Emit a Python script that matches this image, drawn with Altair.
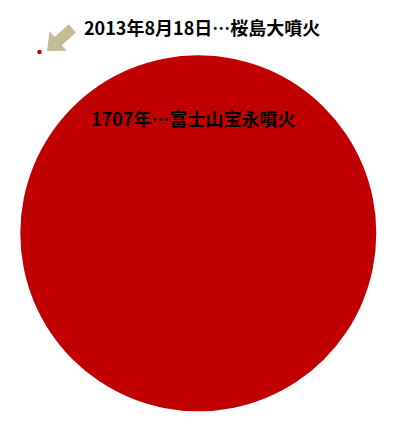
import altair as alt
import pandas as pd

# Data
events = ["1707年…富士山宝永噴火", "2013年8月18日…桜島大噴火"]
keys = ["fuji", "sakurajima"]
volume_m3 = [1700000000, 270000]  # estimated from circle areas

df = pd.DataFrame({"key": keys, "event": events, "volume": volume_m3})

RED = "#C00000"
TAN = "#C4BC96"
FONT = "Noto Sans CJK JP"

size_enc = alt.Size("volume:Q", legend=None,
                    scale=alt.Scale(type="linear", domain=[0, 1700000000], range=[0, 126736]))

base = alt.Chart(df)

fuji_circle = base.transform_filter(alt.datum.key == "fuji").mark_point(
    shape="circle", filled=True, color=RED, opacity=1, strokeWidth=0
).encode(x=alt.value(190.3), y=alt.value(225.3), size=size_enc)

saku_dot = base.transform_filter(alt.datum.key == "sakurajima").mark_point(
    shape="circle", filled=True, color=RED, opacity=1, strokeWidth=0
).encode(x=alt.value(31.5), y=alt.value(44), size=size_enc)

arrow_path = ("M-0.634,0.565L0.357,0.552L0.108,0.272L0.817,-0.36"
              "L0.452,-0.77L-0.257,-0.139L-0.506,-0.419Z")
arrow = base.transform_filter(alt.datum.key == "sakurajima").mark_point(
    shape=arrow_path, filled=True, color=TAN, opacity=1, strokeWidth=0, size=1600
).encode(x=alt.value(51.65), y=alt.value(31.75))

saku_label = base.transform_filter(alt.datum.key == "sakurajima").mark_text(
    align="left", baseline="middle", font=FONT, fontSize=18, fontWeight="bold", color="#000000"
).encode(x=alt.value(76), y=alt.value(22), text="event:N")

fuji_label = base.transform_filter(alt.datum.key == "fuji").mark_text(
    align="left", baseline="middle", font=FONT, fontSize=18, fontWeight="bold", color="#000000"
).encode(x=alt.value(83), y=alt.value(112.5), text="event:N")

chart = alt.layer(fuji_circle, saku_dot, arrow, saku_label, fuji_label).properties(
    width=385, height=405, padding=0, autosize=alt.AutoSizeParams(type="none")
).configure_view(strokeWidth=0)

chart.save("out.html", embed_options={"renderer": "svg", "actions": False})
